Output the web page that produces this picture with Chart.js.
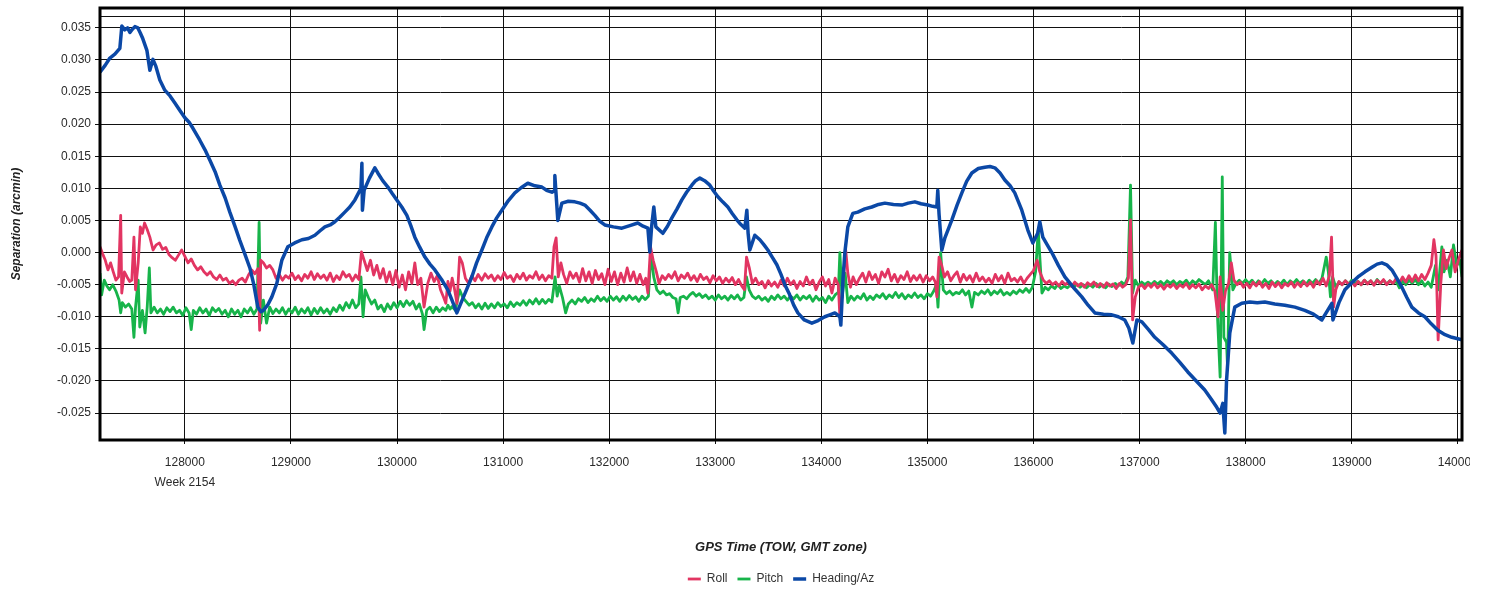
<!DOCTYPE html>
<html>
<head>
<meta charset="utf-8">
<script src="https://cdn.jsdelivr.net/npm/chart.js@4.4.1/dist/chart.umd.min.js"></script>
<style>
  html, body { margin: 0; padding: 0; background: #ffffff; }
  canvas { display: block; }
</style>
</head>
<body>
<canvas id="sepChart" width="1470" height="592"></canvas>
<script>
// axis range + ticks
const xMin = 127200;
const xMax = 140040;
const yMin = -0.0292;
const yMax = 0.0381;
const xTicks = [128000, 129000, 130000, 131000, 132000, 133000, 134000, 135000, 136000, 137000, 138000, 139000, 140000];
const yTicks = [-0.025, -0.020, -0.015, -0.010, -0.005, 0.000, 0.005, 0.010, 0.015, 0.020, 0.025, 0.030, 0.035];
const yInnerLine = 0.0367; // extra thin line under the top frame
const weekLabel = 'Week 2154';
const seriesNames = ['Roll', 'Pitch', 'Heading/Az'];

// [TOW, separation] pairs
const rollPoints = [
  [127200, 0.0009], [127225, -0.0002], [127250, -0.0012], [127275, -0.0027], [127300, -0.0016], [127325, -0.0030],
  [127350, -0.0043], [127375, -0.0038], [127395, 0.0058], [127405, -0.0063], [127430, -0.0030], [127455, -0.0038],
  [127480, -0.0045], [127500, -0.0043], [127520, 0.0024], [127535, -0.0058], [127560, -0.0016], [127580, 0.0040],
  [127600, 0.0030], [127620, 0.0046], [127645, 0.0036], [127670, 0.0024], [127700, 0.0004], [127730, 0.0012],
  [127760, 0.0015], [127790, 0.0005], [127820, 0.0008], [127850, -0.0003], [127880, -0.0008], [127910, -0.0012],
  [127940, -0.0004], [127970, 0.0004], [128000, -0.0006], [128030, -0.0016], [128060, -0.0010], [128090, -0.0020],
  [128120, -0.0027], [128150, -0.0022], [128180, -0.0030], [128210, -0.0035], [128240, -0.0030], [128270, -0.0038],
  [128300, -0.0042], [128330, -0.0035], [128360, -0.0043], [128390, -0.0040], [128420, -0.0048], [128450, -0.0044],
  [128480, -0.0050], [128510, -0.0043], [128540, -0.0040], [128570, -0.0046], [128600, -0.0035], [128630, -0.0027],
  [128660, -0.0033], [128690, -0.0025], [128705, -0.0121], [128715, -0.0012], [128740, -0.0016], [128770, -0.0024],
  [128800, -0.0020], [128830, -0.0027], [128860, -0.0040], [128890, -0.0034], [128920, -0.0043], [128950, -0.0036],
  [128980, -0.0040], [129010, -0.0032], [129040, -0.0042], [129070, -0.0036], [129100, -0.0044], [129130, -0.0034],
  [129160, -0.0040], [129190, -0.0030], [129220, -0.0042], [129250, -0.0033], [129280, -0.0040], [129310, -0.0035],
  [129340, -0.0043], [129370, -0.0032], [129400, -0.0045], [129430, -0.0036], [129460, -0.0042], [129490, -0.0030],
  [129520, -0.0038], [129550, -0.0034], [129580, -0.0044], [129610, -0.0035], [129640, -0.0042], [129665, 0.0001],
  [129690, -0.0012], [129720, -0.0028], [129750, -0.0012], [129780, -0.0035], [129810, -0.0020], [129840, -0.0040],
  [129870, -0.0025], [129900, -0.0046], [129930, -0.0030], [129960, -0.0050], [129990, -0.0028], [130020, -0.0054],
  [130050, -0.0035], [130080, -0.0058], [130110, -0.0030], [130140, -0.0048], [130168, -0.0016], [130195, -0.0050],
  [130225, -0.0040], [130255, -0.0085], [130290, -0.0048], [130320, -0.0032], [130350, -0.0045], [130380, -0.0036],
  [130410, -0.0058], [130440, -0.0070], [130460, -0.0079], [130480, -0.0045], [130500, -0.0060], [130520, -0.0040],
  [130540, -0.0055], [130565, -0.0079], [130590, -0.0007], [130615, -0.0016], [130645, -0.0040], [130675, -0.0048],
  [130705, -0.0036], [130735, -0.0044], [130765, -0.0034], [130800, -0.0043], [130830, -0.0033], [130860, -0.0040],
  [130890, -0.0035], [130920, -0.0044], [130950, -0.0036], [130980, -0.0042], [131010, -0.0031], [131040, -0.0040],
  [131070, -0.0036], [131100, -0.0045], [131130, -0.0034], [131160, -0.0041], [131190, -0.0032], [131220, -0.0043],
  [131250, -0.0036], [131280, -0.0040], [131310, -0.0030], [131340, -0.0042], [131370, -0.0035], [131400, -0.0044],
  [131430, -0.0036], [131460, -0.0040], [131480, 0.0009], [131500, 0.0023], [131520, -0.0038], [131545, -0.0016],
  [131570, -0.0034], [131600, -0.0048], [131630, -0.0030], [131660, -0.0040], [131690, -0.0032], [131720, -0.0046],
  [131750, -0.0025], [131780, -0.0044], [131810, -0.0030], [131840, -0.0048], [131870, -0.0028], [131900, -0.0042],
  [131930, -0.0033], [131960, -0.0050], [131990, -0.0026], [132020, -0.0045], [132050, -0.0030], [132080, -0.0050],
  [132110, -0.0032], [132140, -0.0046], [132170, -0.0024], [132200, -0.0044], [132230, -0.0030], [132260, -0.0048],
  [132290, -0.0034], [132320, -0.0050], [132345, -0.0040], [132365, -0.0063], [132390, 0.0009], [132415, -0.0012],
  [132445, -0.0030], [132470, -0.0048], [132500, -0.0036], [132530, -0.0042], [132560, -0.0034], [132590, -0.0040],
  [132620, -0.0030], [132650, -0.0044], [132680, -0.0035], [132710, -0.0040], [132740, -0.0032], [132770, -0.0043],
  [132800, -0.0036], [132830, -0.0045], [132860, -0.0034], [132890, -0.0042], [132920, -0.0038], [132950, -0.0047],
  [132980, -0.0036], [133010, -0.0044], [133040, -0.0038], [133070, -0.0048], [133100, -0.0040], [133130, -0.0046],
  [133160, -0.0039], [133190, -0.0050], [133220, -0.0042], [133250, -0.0052], [133275, -0.0058], [133295, -0.0007],
  [133320, -0.0023], [133350, -0.0048], [133380, -0.0040], [133410, -0.0050], [133440, -0.0045], [133470, -0.0055],
  [133500, -0.0044], [133530, -0.0052], [133560, -0.0046], [133590, -0.0054], [133620, -0.0043], [133650, -0.0052],
  [133680, -0.0040], [133710, -0.0050], [133740, -0.0044], [133770, -0.0056], [133800, -0.0045], [133830, -0.0052],
  [133860, -0.0038], [133890, -0.0050], [133920, -0.0043], [133950, -0.0058], [133980, -0.0046], [134010, -0.0038],
  [134040, -0.0052], [134070, -0.0042], [134100, -0.0063], [134130, -0.0040], [134160, -0.0050], [134175, -0.0100],
  [134200, -0.0058], [134230, 0.0004], [134250, -0.0032], [134275, -0.0054], [134300, -0.0038], [134330, -0.0050],
  [134360, -0.0040], [134390, -0.0032], [134420, -0.0046], [134450, -0.0030], [134480, -0.0042], [134510, -0.0034],
  [134540, -0.0048], [134570, -0.0030], [134600, -0.0038], [134630, -0.0026], [134660, -0.0044], [134690, -0.0034],
  [134720, -0.0046], [134750, -0.0036], [134780, -0.0042], [134810, -0.0030], [134840, -0.0045], [134870, -0.0036],
  [134900, -0.0043], [134930, -0.0035], [134960, -0.0046], [134990, -0.0036], [135020, -0.0044], [135050, -0.0038],
  [135075, -0.0046], [135090, -0.0069], [135110, -0.0007], [135135, -0.0020], [135160, -0.0038], [135190, -0.0030],
  [135220, -0.0044], [135250, -0.0036], [135280, -0.0030], [135310, -0.0046], [135340, -0.0034], [135370, -0.0043],
  [135400, -0.0036], [135430, -0.0046], [135460, -0.0032], [135490, -0.0044], [135520, -0.0038], [135550, -0.0046],
  [135580, -0.0040], [135610, -0.0048], [135640, -0.0034], [135670, -0.0044], [135700, -0.0036], [135730, -0.0048],
  [135760, -0.0032], [135790, -0.0044], [135820, -0.0040], [135850, -0.0046], [135880, -0.0038], [135910, -0.0048],
  [135940, -0.0040], [135970, -0.0034], [136000, -0.0028], [136035, -0.0012], [136060, -0.0030], [136090, -0.0042],
  [136120, -0.0048], [136150, -0.0044], [136180, -0.0050], [136210, -0.0046], [136240, -0.0052], [136270, -0.0045],
  [136300, -0.0050], [136330, -0.0046], [136360, -0.0053], [136390, -0.0046], [136420, -0.0052], [136450, -0.0048],
  [136480, -0.0054], [136510, -0.0047], [136540, -0.0051], [136570, -0.0046], [136600, -0.0053], [136630, -0.0048],
  [136660, -0.0054], [136690, -0.0047], [136720, -0.0052], [136750, -0.0049], [136780, -0.0056], [136810, -0.0048],
  [136840, -0.0054], [136870, -0.0050], [136895, -0.0040], [136915, 0.0051], [136935, -0.0105], [136960, -0.0069],
  [136990, -0.0054], [137020, -0.0050], [137050, -0.0056], [137080, -0.0049], [137110, -0.0054], [137140, -0.0048],
  [137170, -0.0055], [137200, -0.0050], [137230, -0.0057], [137260, -0.0050], [137290, -0.0054], [137320, -0.0049],
  [137350, -0.0056], [137380, -0.0050], [137410, -0.0054], [137440, -0.0048], [137470, -0.0056], [137500, -0.0050],
  [137530, -0.0055], [137560, -0.0049], [137590, -0.0058], [137620, -0.0052], [137650, -0.0056], [137680, -0.0050],
  [137710, -0.0060], [137740, -0.0100], [137760, -0.0038], [137785, -0.0090], [137810, -0.0060], [137840, -0.0048],
  [137865, -0.0016], [137890, -0.0043], [137920, -0.0050], [137950, -0.0046], [137980, -0.0054], [138010, -0.0048],
  [138040, -0.0055], [138070, -0.0046], [138100, -0.0052], [138130, -0.0045], [138160, -0.0054], [138190, -0.0048],
  [138220, -0.0056], [138250, -0.0046], [138280, -0.0053], [138310, -0.0047], [138340, -0.0055], [138370, -0.0048],
  [138400, -0.0052], [138430, -0.0046], [138460, -0.0054], [138490, -0.0047], [138520, -0.0053], [138550, -0.0045],
  [138580, -0.0052], [138610, -0.0046], [138640, -0.0054], [138670, -0.0044], [138700, -0.0050], [138730, -0.0040],
  [138760, -0.0052], [138790, -0.0036], [138810, 0.0024], [138830, -0.0085], [138850, -0.0058], [138880, -0.0045],
  [138910, -0.0050], [138940, -0.0044], [138970, -0.0049], [139000, -0.0046], [139030, -0.0052], [139060, -0.0045],
  [139090, -0.0050], [139120, -0.0043], [139150, -0.0049], [139180, -0.0044], [139210, -0.0051], [139240, -0.0043],
  [139270, -0.0048], [139300, -0.0042], [139330, -0.0050], [139360, -0.0044], [139390, -0.0048], [139420, -0.0040],
  [139450, -0.0047], [139480, -0.0038], [139510, -0.0046], [139540, -0.0036], [139570, -0.0045], [139600, -0.0035],
  [139630, -0.0044], [139660, -0.0034], [139690, -0.0042], [139720, -0.0032], [139750, -0.0020], [139775, 0.0020],
  [139795, -0.0005], [139815, -0.0136], [139840, -0.0048], [139865, 0.0004], [139890, -0.0025], [139915, -0.0010],
  [139945, 0.0004], [139975, -0.0030], [140010, -0.0010], [140040, 0.0004]
];

const pitchPoints = [
  [127200, -0.0032], [127215, -0.0066], [127240, -0.0043], [127265, -0.0052], [127290, -0.0058], [127320, -0.0050],
  [127350, -0.0060], [127380, -0.0074], [127395, -0.0094], [127410, -0.0078], [127440, -0.0085], [127470, -0.0080],
  [127500, -0.0088], [127520, -0.0132], [127535, -0.0085], [127560, -0.0043], [127575, -0.0116], [127600, -0.0090],
  [127625, -0.0125], [127645, -0.0085], [127665, -0.0024], [127680, -0.0094], [127710, -0.0085], [127740, -0.0094],
  [127770, -0.0088], [127800, -0.0096], [127830, -0.0086], [127860, -0.0092], [127890, -0.0085], [127920, -0.0094],
  [127950, -0.0090], [127980, -0.0098], [128010, -0.0086], [128040, -0.0094], [128060, -0.0120], [128080, -0.0090],
  [128110, -0.0096], [128140, -0.0086], [128170, -0.0094], [128200, -0.0088], [128230, -0.0098], [128260, -0.0086],
  [128290, -0.0092], [128320, -0.0087], [128350, -0.0096], [128380, -0.0090], [128410, -0.0100], [128440, -0.0088],
  [128470, -0.0096], [128500, -0.0090], [128530, -0.0100], [128560, -0.0088], [128590, -0.0094], [128620, -0.0086],
  [128650, -0.0096], [128680, -0.0088], [128700, 0.0047], [128715, -0.0110], [128740, -0.0074], [128770, -0.0110],
  [128800, -0.0085], [128830, -0.0095], [128860, -0.0088], [128890, -0.0094], [128920, -0.0086], [128950, -0.0096],
  [128980, -0.0088], [129010, -0.0094], [129040, -0.0085], [129070, -0.0096], [129100, -0.0088], [129130, -0.0094],
  [129160, -0.0086], [129190, -0.0097], [129220, -0.0087], [129250, -0.0095], [129280, -0.0086], [129310, -0.0094],
  [129340, -0.0088], [129370, -0.0096], [129400, -0.0086], [129430, -0.0092], [129460, -0.0082], [129490, -0.0090],
  [129520, -0.0078], [129550, -0.0086], [129580, -0.0074], [129610, -0.0086], [129640, -0.0080], [129660, -0.0038],
  [129680, -0.0100], [129700, -0.0058], [129730, -0.0070], [129760, -0.0080], [129790, -0.0074], [129820, -0.0088],
  [129850, -0.0082], [129880, -0.0092], [129910, -0.0080], [129940, -0.0088], [129970, -0.0078], [130000, -0.0086],
  [130030, -0.0076], [130060, -0.0084], [130090, -0.0075], [130120, -0.0082], [130150, -0.0076], [130180, -0.0088],
  [130210, -0.0080], [130240, -0.0096], [130255, -0.0120], [130280, -0.0090], [130310, -0.0085], [130340, -0.0094],
  [130370, -0.0085], [130400, -0.0092], [130430, -0.0086], [130460, -0.0090], [130480, -0.0082], [130500, -0.0088],
  [130520, -0.0084], [130550, -0.0090], [130590, -0.0058], [130620, -0.0070], [130650, -0.0076], [130680, -0.0082],
  [130710, -0.0078], [130740, -0.0086], [130770, -0.0080], [130800, -0.0088], [130830, -0.0079], [130860, -0.0087],
  [130890, -0.0080], [130920, -0.0086], [130950, -0.0078], [130980, -0.0084], [131010, -0.0080], [131040, -0.0086],
  [131070, -0.0077], [131100, -0.0084], [131130, -0.0078], [131160, -0.0082], [131190, -0.0075], [131220, -0.0082],
  [131250, -0.0074], [131280, -0.0080], [131310, -0.0072], [131340, -0.0080], [131370, -0.0073], [131400, -0.0079],
  [131430, -0.0073], [131460, -0.0077], [131490, -0.0038], [131510, -0.0068], [131530, -0.0052], [131560, -0.0070],
  [131590, -0.0094], [131615, -0.0080], [131650, -0.0074], [131680, -0.0080], [131710, -0.0072], [131740, -0.0076],
  [131770, -0.0070], [131800, -0.0078], [131830, -0.0072], [131860, -0.0076], [131890, -0.0068], [131920, -0.0075],
  [131950, -0.0070], [131980, -0.0076], [132010, -0.0068], [132040, -0.0074], [132070, -0.0069], [132100, -0.0076],
  [132130, -0.0068], [132160, -0.0074], [132190, -0.0067], [132220, -0.0073], [132250, -0.0069], [132280, -0.0076],
  [132310, -0.0068], [132340, -0.0073], [132370, -0.0068], [132395, 0.0000], [132420, -0.0038], [132450, -0.0058],
  [132480, -0.0064], [132510, -0.0060], [132540, -0.0066], [132570, -0.0064], [132600, -0.0070], [132630, -0.0072],
  [132650, -0.0094], [132670, -0.0070], [132700, -0.0068], [132730, -0.0072], [132760, -0.0066], [132790, -0.0062],
  [132820, -0.0068], [132850, -0.0064], [132880, -0.0070], [132910, -0.0066], [132940, -0.0072], [132970, -0.0068],
  [133000, -0.0074], [133030, -0.0066], [133060, -0.0072], [133090, -0.0068], [133120, -0.0074], [133150, -0.0067],
  [133180, -0.0072], [133210, -0.0066], [133240, -0.0074], [133270, -0.0070], [133295, -0.0038], [133320, -0.0058],
  [133350, -0.0068], [133380, -0.0072], [133410, -0.0068], [133440, -0.0074], [133470, -0.0070], [133500, -0.0076],
  [133530, -0.0068], [133560, -0.0073], [133590, -0.0066], [133620, -0.0072], [133650, -0.0068], [133680, -0.0074],
  [133710, -0.0068], [133740, -0.0072], [133770, -0.0066], [133800, -0.0074], [133830, -0.0068], [133860, -0.0072],
  [133890, -0.0067], [133920, -0.0076], [133950, -0.0068], [133980, -0.0074], [134010, -0.0070], [134040, -0.0078],
  [134070, -0.0068], [134100, -0.0074], [134130, -0.0066], [134160, -0.0062], [134175, 0.0000], [134195, -0.0070],
  [134225, -0.0032], [134250, -0.0078], [134280, -0.0068], [134310, -0.0074], [134340, -0.0068], [134370, -0.0072],
  [134400, -0.0064], [134430, -0.0074], [134460, -0.0068], [134490, -0.0073], [134520, -0.0066], [134550, -0.0070],
  [134580, -0.0064], [134610, -0.0072], [134640, -0.0066], [134670, -0.0070], [134700, -0.0062], [134730, -0.0070],
  [134760, -0.0064], [134790, -0.0072], [134820, -0.0066], [134850, -0.0070], [134880, -0.0063], [134910, -0.0070],
  [134940, -0.0066], [134970, -0.0072], [135000, -0.0064], [135030, -0.0068], [135060, -0.0060], [135085, -0.0050],
  [135100, -0.0085], [135125, 0.0000], [135150, -0.0058], [135180, -0.0064], [135210, -0.0060], [135240, -0.0066],
  [135270, -0.0062], [135300, -0.0064], [135330, -0.0058], [135360, -0.0066], [135390, -0.0060], [135420, -0.0085],
  [135445, -0.0062], [135480, -0.0066], [135510, -0.0060], [135540, -0.0064], [135570, -0.0058], [135600, -0.0066],
  [135630, -0.0060], [135660, -0.0064], [135690, -0.0058], [135720, -0.0066], [135750, -0.0062], [135780, -0.0066],
  [135810, -0.0060], [135840, -0.0064], [135870, -0.0058], [135900, -0.0062], [135930, -0.0056], [135960, -0.0062],
  [135990, -0.0054], [136020, -0.0030], [136045, 0.0035], [136060, -0.0007], [136080, -0.0063], [136110, -0.0054],
  [136140, -0.0058], [136170, -0.0052], [136200, -0.0056], [136230, -0.0050], [136260, -0.0056], [136290, -0.0052],
  [136320, -0.0055], [136350, -0.0050], [136380, -0.0054], [136410, -0.0049], [136440, -0.0054], [136470, -0.0050],
  [136500, -0.0055], [136530, -0.0050], [136560, -0.0054], [136590, -0.0048], [136620, -0.0054], [136650, -0.0050],
  [136680, -0.0055], [136710, -0.0049], [136740, -0.0053], [136770, -0.0048], [136800, -0.0052], [136830, -0.0046],
  [136860, -0.0050], [136890, -0.0038], [136915, 0.0105], [136935, -0.0063], [136960, -0.0043], [136990, -0.0052],
  [137020, -0.0046], [137050, -0.0050], [137080, -0.0046], [137110, -0.0050], [137140, -0.0045], [137170, -0.0049],
  [137200, -0.0045], [137230, -0.0050], [137260, -0.0044], [137290, -0.0048], [137320, -0.0044], [137350, -0.0050],
  [137380, -0.0045], [137410, -0.0048], [137440, -0.0043], [137470, -0.0050], [137500, -0.0044], [137530, -0.0048],
  [137560, -0.0042], [137590, -0.0046], [137620, -0.0050], [137650, -0.0044], [137690, -0.0058], [137715, 0.0047],
  [137735, -0.0100], [137760, -0.0194], [137780, 0.0118], [137795, -0.0132], [137820, -0.0140], [137830, -0.0180],
  [137850, 0.0000], [137880, -0.0058], [137910, -0.0048], [137940, -0.0043], [137970, -0.0048], [138000, -0.0042],
  [138030, -0.0048], [138060, -0.0043], [138090, -0.0050], [138120, -0.0044], [138150, -0.0049], [138180, -0.0042],
  [138210, -0.0048], [138240, -0.0044], [138270, -0.0050], [138300, -0.0045], [138330, -0.0049], [138360, -0.0043],
  [138390, -0.0050], [138420, -0.0044], [138450, -0.0048], [138480, -0.0042], [138510, -0.0048], [138540, -0.0044],
  [138570, -0.0050], [138600, -0.0043], [138630, -0.0048], [138660, -0.0042], [138690, -0.0048], [138720, -0.0040],
  [138760, -0.0007], [138780, -0.0030], [138800, -0.0069], [138820, -0.0038], [138850, -0.0054], [138880, -0.0046],
  [138910, -0.0050], [138940, -0.0044], [138970, -0.0049], [139000, -0.0043], [139030, -0.0048], [139060, -0.0045],
  [139090, -0.0050], [139120, -0.0043], [139150, -0.0048], [139180, -0.0044], [139210, -0.0050], [139240, -0.0042],
  [139270, -0.0048], [139300, -0.0043], [139330, -0.0049], [139360, -0.0044], [139390, -0.0048], [139420, -0.0045],
  [139450, -0.0055], [139480, -0.0044], [139510, -0.0050], [139540, -0.0043], [139570, -0.0048], [139600, -0.0042],
  [139630, -0.0050], [139660, -0.0044], [139690, -0.0052], [139720, -0.0046], [139750, -0.0054], [139790, -0.0020],
  [139815, -0.0058], [139850, 0.0009], [139870, -0.0030], [139900, -0.0012], [139930, -0.0038], [139960, 0.0012],
  [139990, -0.0020], [140020, -0.0012], [140040, -0.0038]
];

const headingPoints = [
  [127200, 0.0281], [127250, 0.0292], [127293, 0.0303], [127340, 0.0309], [127387, 0.0318], [127406, 0.0353],
  [127434, 0.0347], [127460, 0.0350], [127482, 0.0343], [127505, 0.0348], [127529, 0.0352], [127557, 0.0350],
  [127580, 0.0342], [127604, 0.0333], [127642, 0.0315], [127670, 0.0284], [127699, 0.0301], [127727, 0.0290],
  [127764, 0.0269], [127811, 0.0253], [127860, 0.0244], [127906, 0.0233], [127950, 0.0222], [128000, 0.0210],
  [128040, 0.0203], [128075, 0.0194], [128141, 0.0175], [128190, 0.0160], [128236, 0.0144], [128285, 0.0126],
  [128330, 0.0105], [128380, 0.0085], [128424, 0.0063], [128470, 0.0042], [128518, 0.0019], [128565, -0.0002],
  [128613, -0.0024], [128650, -0.0050], [128688, -0.0085], [128716, -0.0092], [128740, -0.0090], [128780, -0.0082],
  [128820, -0.0069], [128867, -0.0048], [128914, -0.0012], [128971, 0.0009], [129035, 0.0015], [129103, 0.0020],
  [129165, 0.0022], [129226, 0.0027], [129275, 0.0034], [129320, 0.0040], [129370, 0.0043], [129414, 0.0048],
  [129460, 0.0055], [129508, 0.0063], [129555, 0.0071], [129603, 0.0082], [129660, 0.0100], [129669, 0.0139],
  [129674, 0.0066], [129690, 0.0097], [129740, 0.0116], [129791, 0.0132], [129819, 0.0124], [129865, 0.0112],
  [129914, 0.0102], [129955, 0.0092], [129998, 0.0082], [130045, 0.0071], [130093, 0.0058], [130130, 0.0042],
  [130168, 0.0024], [130215, 0.0008], [130263, -0.0007], [130310, -0.0018], [130357, -0.0027], [130420, -0.0042],
  [130479, -0.0058], [130520, -0.0075], [130564, -0.0094], [130635, -0.0066], [130705, -0.0038], [130750, -0.0016],
  [130800, 0.0004], [130845, 0.0023], [130894, 0.0040], [130940, 0.0054], [130988, 0.0066], [131050, 0.0081],
  [131111, 0.0093], [131170, 0.0101], [131233, 0.0108], [131300, 0.0104], [131366, 0.0102], [131410, 0.0097],
  [131460, 0.0094], [131480, 0.0096], [131488, 0.0120], [131500, 0.0090], [131516, 0.0050], [131554, 0.0077],
  [131615, 0.0080], [131677, 0.0079], [131725, 0.0077], [131771, 0.0074], [131820, 0.0066], [131865, 0.0058],
  [131910, 0.0049], [131959, 0.0043], [132040, 0.0040], [132120, 0.0038], [132195, 0.0042], [132270, 0.0046],
  [132320, 0.0041], [132365, 0.0038], [132383, 0.0001], [132400, 0.0040], [132421, 0.0071], [132440, 0.0040],
  [132506, 0.0030], [132550, 0.0041], [132591, 0.0054], [132640, 0.0068], [132685, 0.0082], [132730, 0.0094],
  [132779, 0.0105], [132815, 0.0112], [132855, 0.0116], [132900, 0.0112], [132949, 0.0105], [132985, 0.0096],
  [133025, 0.0087], [133070, 0.0079], [133119, 0.0071], [133160, 0.0061], [133204, 0.0051], [133240, 0.0044],
  [133279, 0.0038], [133298, 0.0066], [133310, 0.0030], [133326, 0.0004], [133373, 0.0027], [133421, 0.0020],
  [133460, 0.0012], [133496, 0.0004], [133540, -0.0008], [133581, -0.0019], [133620, -0.0034], [133656, -0.0050],
  [133700, -0.0065], [133740, -0.0082], [133779, -0.0094], [133840, -0.0105], [133911, -0.0110], [133970, -0.0106],
  [134033, -0.0100], [134080, -0.0097], [134128, -0.0094], [134175, -0.0100], [134184, -0.0113], [134205, -0.0040],
  [134222, 0.0000], [134250, 0.0040], [134297, 0.0061], [134344, 0.0063], [134410, 0.0068], [134476, 0.0071],
  [134540, 0.0075], [134599, 0.0077], [134680, 0.0075], [134759, 0.0074], [134820, 0.0077], [134882, 0.0079],
  [134940, 0.0076], [135004, 0.0074], [135050, 0.0072], [135089, 0.0071], [135098, 0.0097], [135110, 0.0060],
  [135136, 0.0004], [135165, 0.0023], [135231, 0.0051], [135280, 0.0074], [135325, 0.0093], [135370, 0.0111],
  [135419, 0.0124], [135480, 0.0131], [135542, 0.0133], [135590, 0.0134], [135636, 0.0132], [135685, 0.0124],
  [135730, 0.0113], [135780, 0.0104], [135824, 0.0093], [135890, 0.0066], [135947, 0.0035], [135994, 0.0015],
  [136040, 0.0030], [136060, 0.0048], [136088, 0.0024], [136130, 0.0012], [136173, 0.0000], [136235, -0.0020],
  [136296, -0.0038], [136375, -0.0054], [136456, -0.0069], [136515, -0.0082], [136579, -0.0094], [136660, -0.0096],
  [136739, -0.0097], [136800, -0.0100], [136861, -0.0105], [136900, -0.0118], [136937, -0.0141], [136975, -0.0105],
  [137022, -0.0108], [137085, -0.0120], [137144, -0.0132], [137225, -0.0144], [137305, -0.0157], [137380, -0.0171],
  [137455, -0.0186], [137535, -0.0200], [137615, -0.0214], [137675, -0.0228], [137728, -0.0241], [137760, -0.0250],
  [137785, -0.0235], [137804, -0.0281], [137820, -0.0200], [137851, -0.0125], [137898, -0.0085], [137964, -0.0079],
  [138040, -0.0077], [138110, -0.0078], [138181, -0.0077], [138275, -0.0080], [138370, -0.0082], [138465, -0.0085],
  [138558, -0.0090], [138640, -0.0096], [138719, -0.0105], [138813, -0.0079], [138823, -0.0105], [138880, -0.0078],
  [138936, -0.0058], [139000, -0.0047], [139059, -0.0038], [139125, -0.0030], [139191, -0.0023], [139240, -0.0018],
  [139285, -0.0016], [139330, -0.0019], [139379, -0.0027], [139425, -0.0040], [139473, -0.0054], [139520, -0.0070],
  [139567, -0.0085], [139630, -0.0094], [139690, -0.0100], [139750, -0.0111], [139812, -0.0121], [139880, -0.0128],
  [139944, -0.0132], [140040, -0.0136]
];

const seriesColors = ['#e23562', '#17b44a', '#0b48a6'];

(function () {

    const fontFamily = "'Liberation Sans', Arial, sans-serif";

    // turn the pairs into {x, y}
    function toXY(pairs) {
        return pairs.map(p => ({ x: p[0], y: p[1] }));
    }

    // heavy frame around the plot area, like the original
    const framePlugin = {
        id: 'plotFrame',
        afterDatasetsDraw(chart) {
            const a = chart.chartArea;
            const ctx = chart.ctx;
            ctx.save();
            ctx.strokeStyle = '#000000';
            ctx.lineWidth = 3;
            ctx.strokeRect(a.left, a.top, a.right - a.left, a.bottom - a.top);
            ctx.restore();
        }
    };

    const lineStyle = {
        pointRadius: 0,
        borderJoinStyle: 'round',
        tension: 0,
        fill: false
    };

    const datasets = [
        { ...lineStyle, label: seriesNames[0], data: toXY(rollPoints), borderColor: seriesColors[0], backgroundColor: seriesColors[0], borderWidth: 2.8, order: 1 },
        { ...lineStyle, label: seriesNames[1], data: toXY(pitchPoints), borderColor: seriesColors[1], backgroundColor: seriesColors[1], borderWidth: 2.8, order: 2 },
        { ...lineStyle, label: seriesNames[2], data: toXY(headingPoints), borderColor: seriesColors[2], backgroundColor: seriesColors[2], borderWidth: 3.5, order: 0 }
    ];

    const scales = {
        x: {
            type: 'linear',
            min: xMin,
            max: xMax,
            afterBuildTicks(axis) {
                axis.ticks = xTicks.map(v => ({ value: v }));
            },
            afterFit(axis) {
                axis.height = 123;
                // don't let the end labels squeeze the plot
                axis.paddingLeft = 0;
                axis.paddingRight = 0;
            },
            ticks: {
                autoSkip: false,
                maxRotation: 0,
                padding: 9,
                color: '#2a2a2a',
                font: { family: fontFamily, size: 12, lineHeight: 1.667 },
                callback: function (value) {
                    if (value === xTicks[0]) { return [String(value), weekLabel]; }
                    return String(value);
                }
            },
            grid: {
                color: '#111111',
                lineWidth: 1,
                tickLength: 4
            },
            border: { display: false },
            title: {
                display: true,
                text: 'GPS Time (TOW, GMT zone)',
                color: '#222222',
                font: { family: fontFamily, size: 13, weight: 'bold', style: 'italic' },
                padding: { top: 0, bottom: 8 }
            }
        },
        y: {
            type: 'linear',
            min: yMin,
            max: yMax,
            afterBuildTicks(axis) {
                axis.ticks = yTicks.map(v => ({ value: v }));
                axis.ticks.push({ value: yInnerLine });
            },
            afterFit(axis) {
                axis.width = 100;
                axis.paddingTop = 0;
                axis.paddingBottom = 0;
            },
            ticks: {
                padding: 4,
                color: '#2a2a2a',
                font: { family: fontFamily, size: 12 },
                callback: function (value) {
                    if (value === yInnerLine) { return ''; }
                    return value.toFixed(3);
                }
            },
            grid: {
                color: '#111111',
                lineWidth: 1,
                tickLength: 5,
                tickColor: (c) => (c.tick && c.tick.value === yInnerLine) ? 'rgba(0,0,0,0)' : '#111111'
            },
            border: { display: false },
            title: {
                display: true,
                text: 'Separation (arcmin)',
                color: '#222222',
                font: { family: fontFamily, size: 12, weight: 'bold', style: 'italic' },
                padding: { top: 9, bottom: 0 }
            }
        }
    };

    const config = {
        type: 'line',
        data: { datasets: datasets },
        options: {
            responsive: false,
            animation: false,
            layout: {
                autoPadding: false,
                padding: { left: 0, top: 8, right: 8, bottom: -3 }
            },
            scales: scales,
            plugins: {
                legend: {
                    position: 'bottom',
                    fullSize: false,
                    labels: {
                        usePointStyle: true,
                        pointStyle: 'line',
                        pointStyleWidth: 13,
                        boxHeight: 12,
                        padding: 10,
                        color: '#333333',
                        font: { family: fontFamily, size: 12 },
                        // keep Roll, Pitch, Heading/Az order in the legend
                        sort: (a, b) => a.datasetIndex - b.datasetIndex
                    }
                },
                tooltip: { enabled: false }
            }
        },
        plugins: [framePlugin]
    };

    new Chart(document.getElementById('sepChart'), config);
})();
</script>
</body>
</html>
